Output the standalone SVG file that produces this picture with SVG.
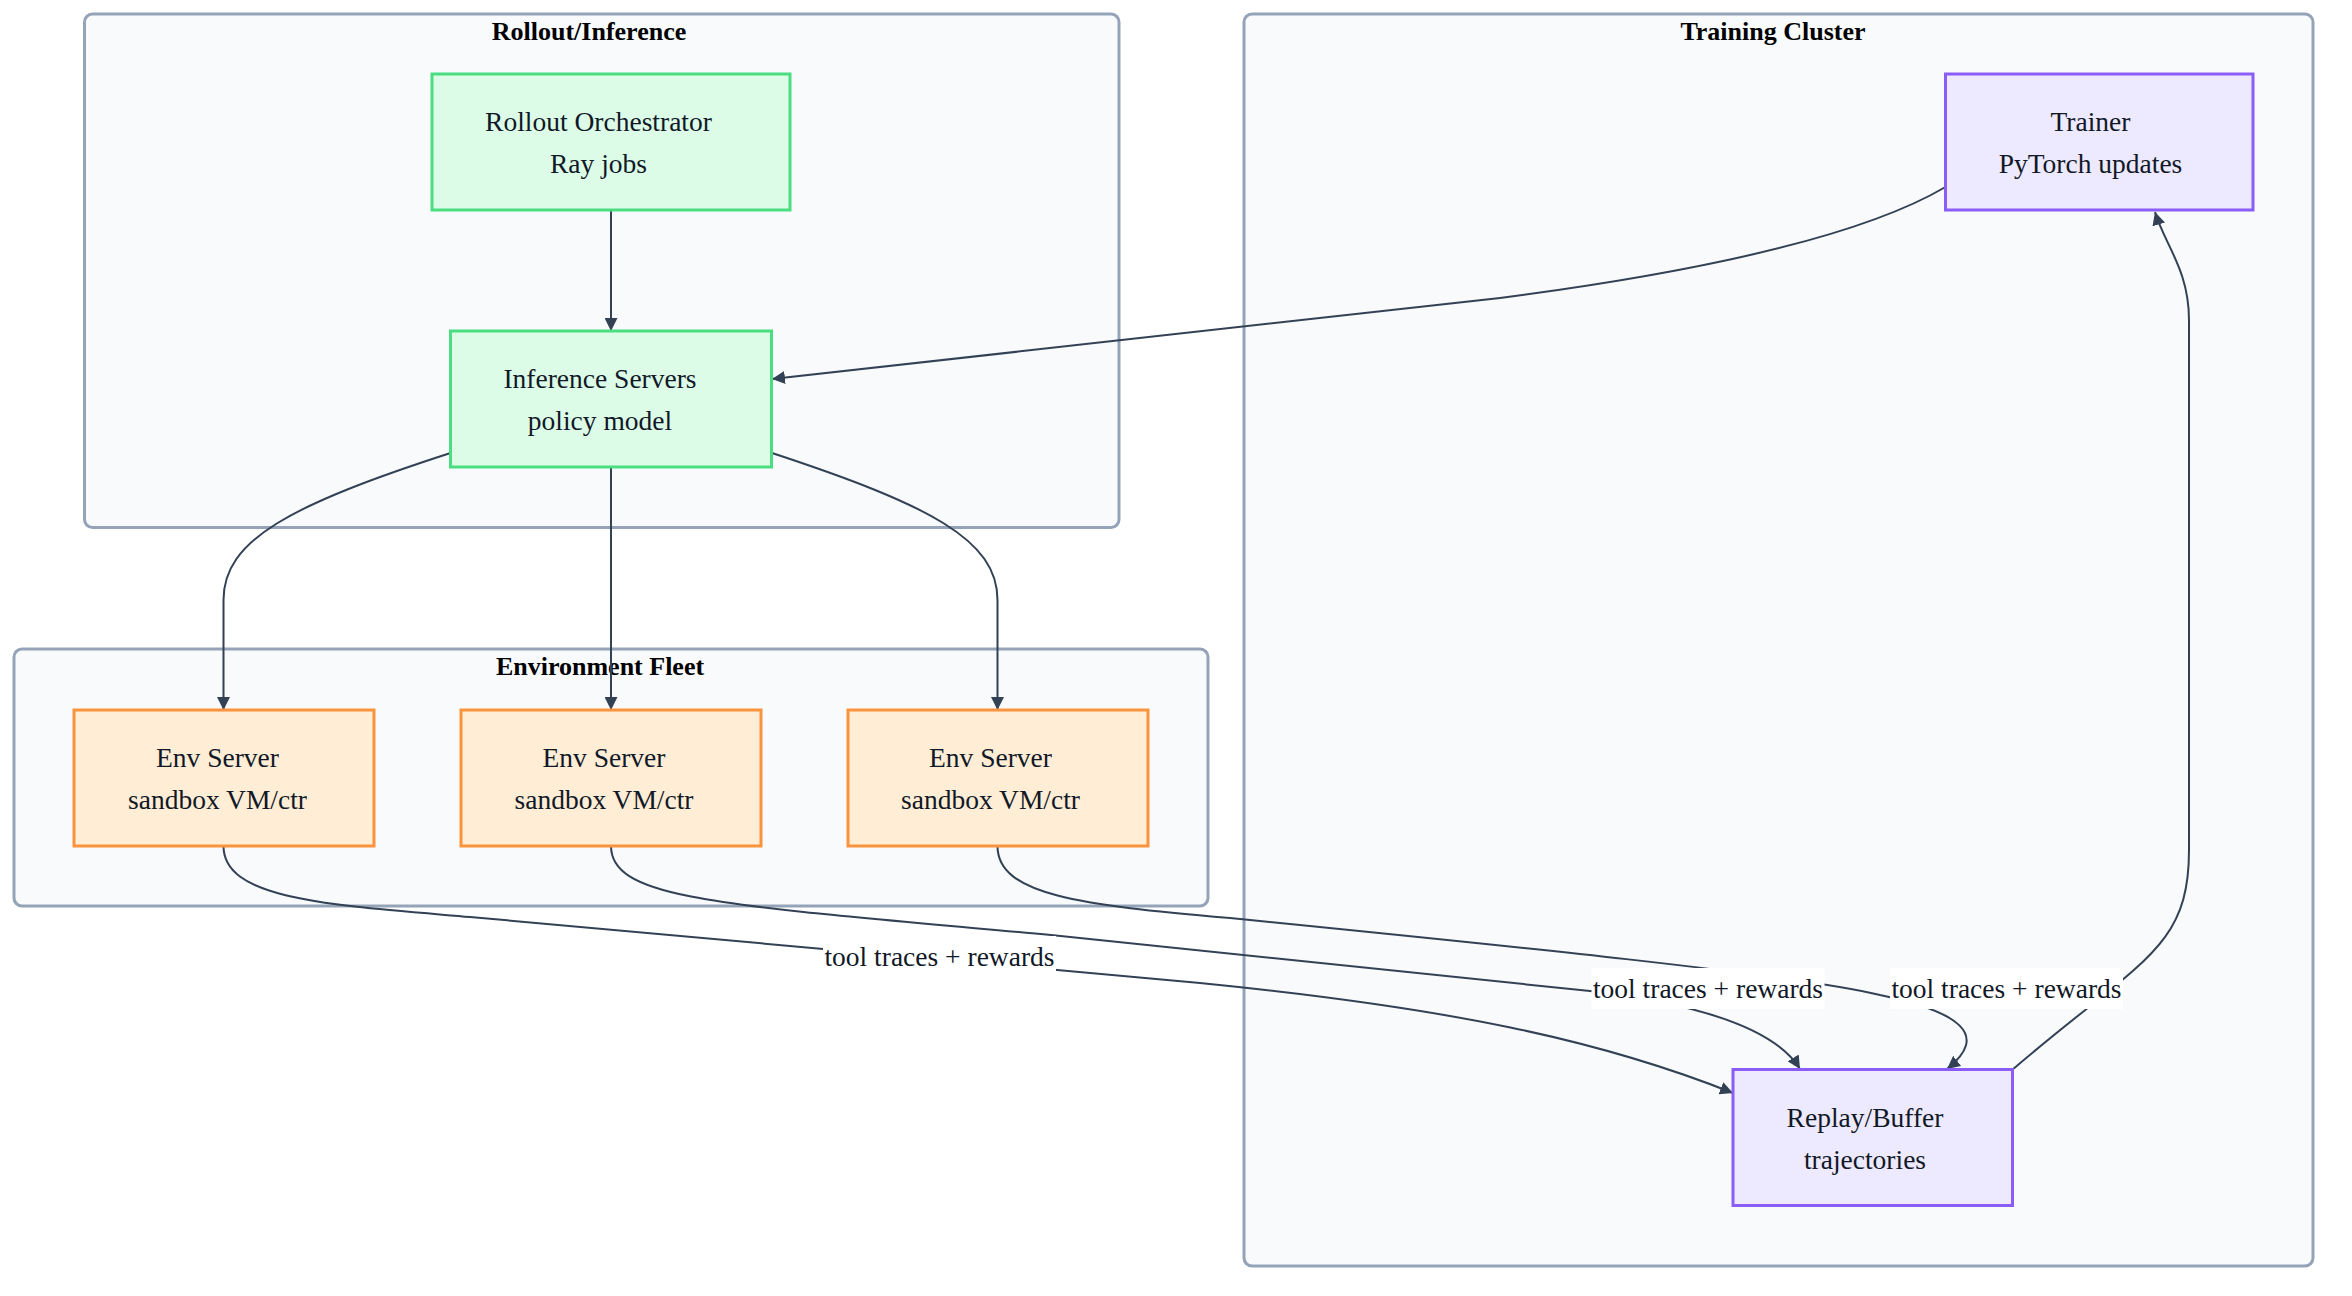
<svg xmlns="http://www.w3.org/2000/svg" width="2352" height="1296" viewBox="0 0 2352 1296">
<style>
.cluster rect{fill:#f8fafc;stroke:#94a3b8;stroke-width:3}
.ctitle{font-family:"Liberation Serif","Times New Roman",serif;font-weight:bold;font-size:26px;fill:#000;text-anchor:middle}
.node rect{stroke-width:3}
.green rect{fill:#dcfce7;stroke:#4ade80}
.orange rect{fill:#ffedd5;stroke:#fb923c}
.purple rect{fill:#ede9fe;stroke:#8b5cf6}
.node text,.elabel text{font-family:"Liberation Serif","Times New Roman",serif;font-size:27.5px;fill:#111827;text-anchor:middle}
.edge{fill:none;stroke:#334155;stroke-width:2;marker-end:url(#arrow)}
.elabel rect{fill:#ffffff}
</style>
<defs>
<marker id="arrow" viewBox="0 0 10 10" refX="10" refY="5" markerWidth="13" markerHeight="13" markerUnits="userSpaceOnUse" orient="auto">
<path d="M0,0 L10,5 L0,10 z" fill="#334155"/>
</marker>
</defs>
<rect width="2352" height="1296" fill="#ffffff"/>
<g id="clusters">
<g id="cluster-rollout" class="cluster"><rect x="84.5" y="14" width="1034.5" height="513.5" rx="8"/><text class="ctitle" x="589" y="40">Rollout/Inference</text></g>
<g id="cluster-training" class="cluster"><rect x="1244" y="14" width="1069" height="1252" rx="8"/><text class="ctitle" x="1773" y="40">Training Cluster</text></g>
<g id="cluster-env" class="cluster"><rect x="14" y="649" width="1194" height="257" rx="8"/><text class="ctitle" x="600" y="675">Environment Fleet</text></g>
</g>
<g id="connectors">
<path class="edge" d="M611,210 L611,331"/>
<path class="edge" d="M1945.5,187 Q1830,255 1500,298 L772,379"/>
<path class="edge" d="M450.5,453 C290,505 223.5,540 223.5,600 L223.5,710"/>
<path class="edge" d="M611,467 L611,710"/>
<path class="edge" d="M772,453 C930,505 997.5,540 997.5,600 L997.5,710"/>
<path class="edge" d="M223.5,846 C223.5,900 330,905 470,917 L1200,983 C1450,1008 1600,1040 1733,1093"/>
<path class="edge" d="M611,846 C611,900 720,905 1051,935 L1590,991 Q1765,1012 1800,1069"/>
<path class="edge" d="M997.5,846 C997.5,895 1080,905 1230,918 C1500,945 1800,975 1880,995 C1960,1012 1990,1035 1947,1069"/>
<path class="edge" d="M2012,1070 C2140,960 2189,950 2189,850 L2189,320 C2189,270 2165,245 2155,212"/>
</g>
<g id="edge-labels">
<g class="elabel"><rect x="823" y="936" width="233" height="41"/><text x="939.5" y="966">tool traces + rewards</text></g>
<g class="elabel"><rect x="1591.5" y="968" width="233" height="41"/><text x="1708" y="998">tool traces + rewards</text></g>
<g class="elabel"><rect x="1890" y="968" width="233" height="41"/><text x="2006.5" y="998">tool traces + rewards</text></g>
</g>
<g id="node-orchestrator" class="node green"><rect x="432" y="74" width="358" height="136"/><text x="598.5" y="131">Rollout Orchestrator</text><text x="598.5" y="173">Ray jobs</text></g>
<g id="node-inference" class="node green"><rect x="450.5" y="331" width="321" height="136"/><text x="600" y="388">Inference Servers</text><text x="600" y="430">policy model</text></g>
<g id="node-env1" class="node orange"><rect x="74" y="710" width="300" height="136"/><text x="217.5" y="767">Env Server</text><text x="217.5" y="809">sandbox VM/ctr</text></g>
<g id="node-env2" class="node orange"><rect x="461" y="710" width="300" height="136"/><text x="604" y="767">Env Server</text><text x="604" y="809">sandbox VM/ctr</text></g>
<g id="node-env3" class="node orange"><rect x="848" y="710" width="300" height="136"/><text x="990.5" y="767">Env Server</text><text x="990.5" y="809">sandbox VM/ctr</text></g>
<g id="node-trainer" class="node purple"><rect x="1945.5" y="74" width="307.5" height="136"/><text x="2090.5" y="131">Trainer</text><text x="2090.5" y="173">PyTorch updates</text></g>
<g id="node-replay" class="node purple"><rect x="1733" y="1069.5" width="279.5" height="136"/><text x="1865" y="1126.5">Replay/Buffer</text><text x="1865" y="1168.5">trajectories</text></g>
</svg>
